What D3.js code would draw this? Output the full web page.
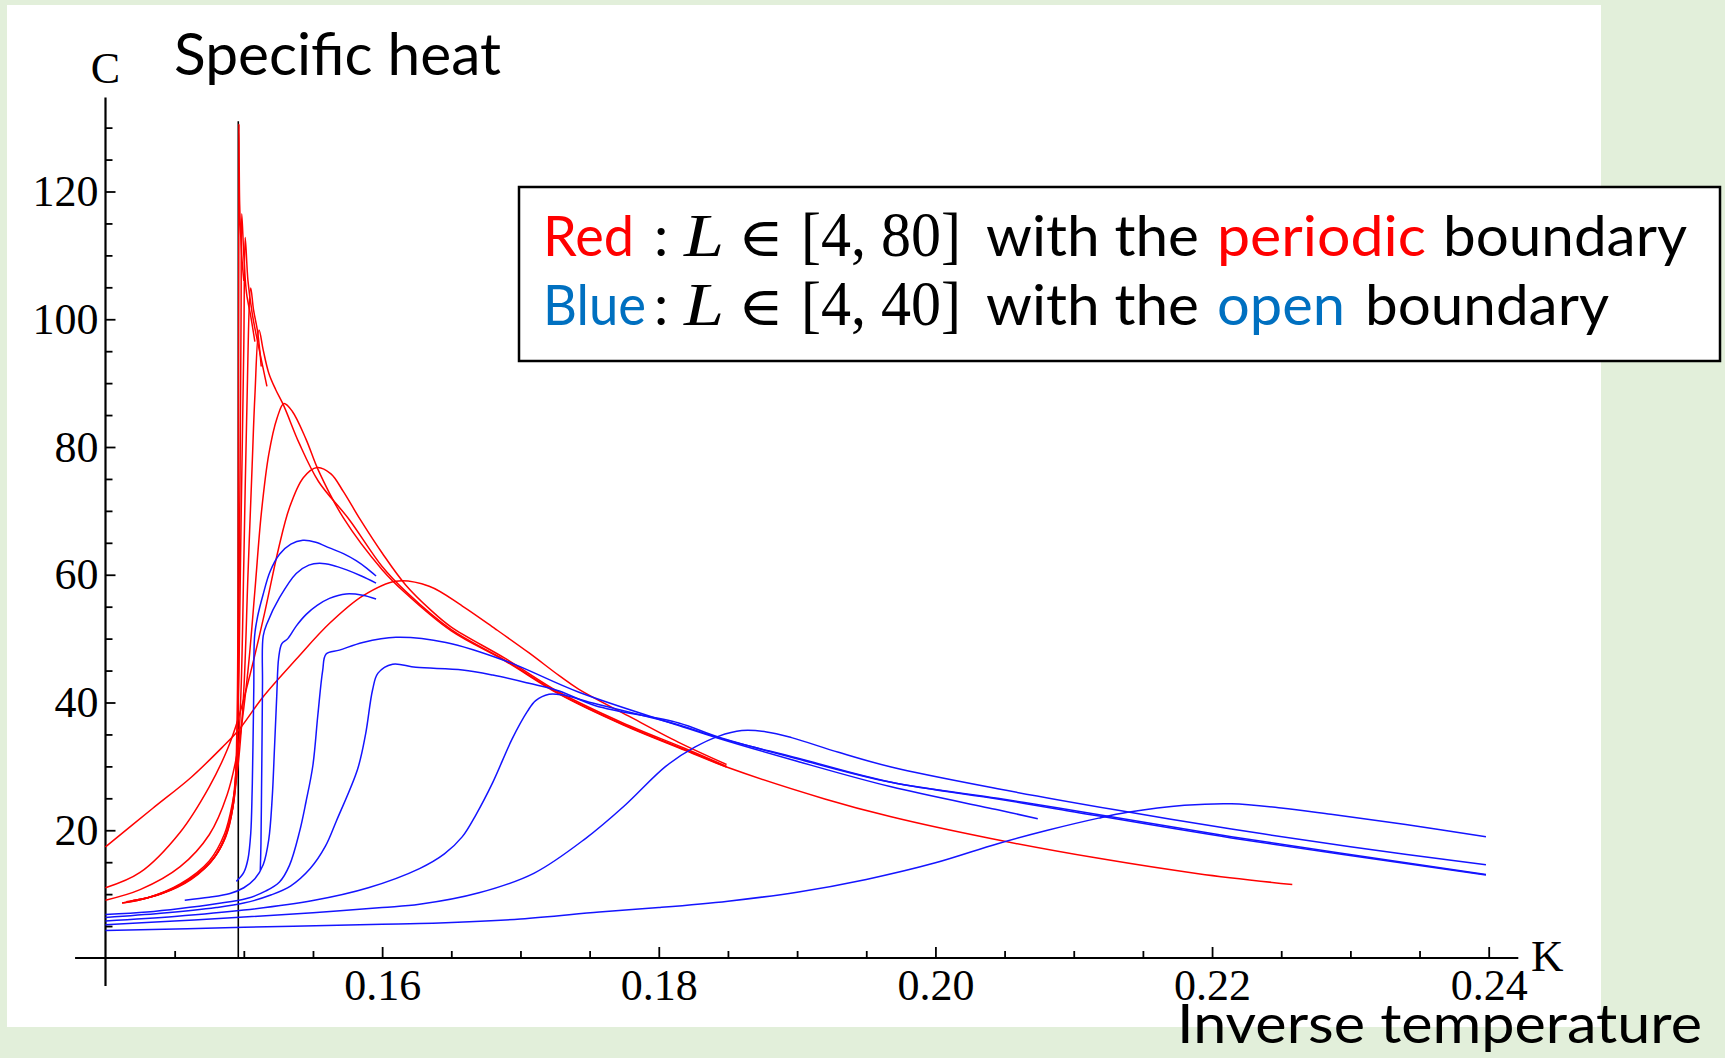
<!DOCTYPE html>
<html>
<head>
<meta charset="utf-8">
<script src="https://cdn.jsdelivr.net/npm/d3@7"></script>
<style>
  body { margin: 0; background: #e2efda; }
  svg { display: block; }
</style>
</head>
<body>
<svg id="chart" width="1725" height="1058"></svg>
<script>
// ---------------------------------------------------------------
// Specific heat C versus inverse temperature K
// Red: periodic boundary, Blue: open boundary, black: critical K
// ---------------------------------------------------------------

// Axis ticks
const xMajorTicks = [0.16, 0.18, 0.20, 0.22, 0.24];
const xMinorTicks = [0.145, 0.15, 0.155, 0.165, 0.17, 0.175, 0.185, 0.19, 0.195,
                     0.205, 0.21, 0.215, 0.225, 0.23, 0.235];
const yMajorTicks = [20, 40, 60, 80, 100, 120];
const yMinorTicks = [5, 10, 15, 25, 30, 35, 45, 50, 55, 65, 70, 75, 85, 90, 95,
                     105, 110, 115, 125, 130];

// Critical coupling marker
const criticalK = 0.1496;
const criticalTop = 131;

// Periodic boundary curves, [K, C]
const periodic1 = [[0.1400,17.4],[0.1434,23.4],[0.1462,28.3],[0.1484,32.9],[0.1496,35.6],[0.1514,40.9],
  [0.1538,46.8],[0.1562,52.4],[0.1586,56.7],[0.1610,59.0],[0.1634,58.2],[0.1658,55.1],[0.1682,51.5],
  [0.1706,47.8],[0.1728,44.2],[0.1742,42.1],[0.1778,37.9],[0.1814,33.8],[0.1849,30.3]];
const periodic2 = [[0.1400,11.0],[0.1425,13.4],[0.1454,19.7],[0.1475,26.8],[0.1488,32.6],[0.1496,37.5],
  [0.1505,44.8],[0.1515,54.0],[0.1525,64.0],[0.1533,70.5],[0.1543,75.2],[0.1553,76.8],[0.1563,75.8],
  [0.1572,73.0],[0.1584,68.7],[0.1600,63.4],[0.1617,58.4],[0.1635,54.5],[0.1650,51.8],[0.1689,46.9],
  [0.1728,41.6],[0.1774,36.8],[0.1819,32.8],[0.1849,30.0]];
const periodic3 = [[0.1400,9.05],[0.1425,10.7],[0.1454,14.3],[0.1475,19.3],[0.1488,25.6],[0.1496,33.0],
  [0.1503,45.0],[0.1508,57.5],[0.15126,69.5],[0.1518,78.8],[0.1524,84.5],[0.1529,86.8],[0.1535,85.6],
  [0.1545,81.2],[0.1554,76.3],[0.1572,68.9],[0.1600,60.8],[0.1617,57.1],[0.1650,51.2],[0.1689,46.5],
  [0.1728,41.3],[0.1774,36.5],[0.1819,32.5],[0.1849,29.9],[0.1920,24.9],[0.1968,22.1],[0.2040,18.7],
  [0.2118,15.6],[0.2190,13.2],[0.2258,11.5]];
const periodic4 = [[0.1412,8.6],[0.1430,9.4],[0.1454,11.6],[0.1475,15.2],[0.1486,19.4],[0.1492,24.5],
  [0.1496,30.5],[0.1500,42.0],[0.1503,60.0],[0.1506,77.0],[0.1508,88.0],[0.1511,98.3],[0.1514,95.2],
  [0.1518,91.6],[0.1523,89.0],[0.1529,86.4],[0.1540,80.6],[0.1554,74.6],[0.1576,68.7],[0.1600,61.3],
  [0.1617,57.4],[0.1650,51.4],[0.1689,46.6],[0.1728,41.4],[0.1774,36.6],[0.1819,32.6],[0.1849,29.9]];
const periodic5 = [[0.1412,8.6],[0.1432,9.5],[0.1456,11.7],[0.1476,15.0],[0.1486,18.8],[0.1492,23.5],
  [0.1495,29.0],[0.1498,42.0],[0.1500,62.0],[0.1502,84.0],[0.1505,104.9],[0.1507,101.5],[0.1510,98.0],
  [0.15126,92.6]];
const periodic6 = [[0.1415,8.8],[0.1435,9.7],[0.1458,11.9],[0.1477,15.3],[0.1486,18.6],[0.1491,22.8],
  [0.1494,28.5],[0.14965,45.0],[0.1498,68.0],[0.1500,96.0],[0.1501,112.8],[0.1503,106.0],[0.1506,101.0],
  [0.1509,97.5],[0.15167,89.5]];
const periodic7 = [[0.1418,8.9],[0.1438,9.9],[0.1460,12.1],[0.1478,15.6],[0.1487,19.0],[0.1492,23.5],
  [0.1495,32.0],[0.14965,55.0],[0.1498,100.0],[0.14985,116.5],[0.1500,110.0],[0.1502,104.0],
  [0.1505,100.5],[0.1508,96.5]];
const periodic8 = [[0.1420,9.0],[0.1440,10.0],[0.1462,12.3],[0.1479,15.8],[0.1488,19.8],[0.1493,25.0],
  [0.1495,36.0],[0.1496,70.0],[0.14965,130.5],[0.1497,118.0],[0.14985,110.0],[0.1500,106.0]];

// Open boundary curves, [K, C]
const open1 = [[0.14946,12.0],[0.1500,13.4],[0.1503,15.5],[0.1505,19.5],[0.1506,26.0],[0.15066,33.0],
  [0.15072,42.0],[0.15078,50.4],[0.1510,53.5],[0.15138,56.8],[0.1519,60.5],[0.15258,63.2],[0.1534,64.8],
  [0.15427,65.4],[0.1552,65.1],[0.15619,64.2],[0.1572,63.3],[0.15812,62.2],[0.1589,61.0],[0.15956,59.8]];
const open2 = [[0.15119,13.75],[0.15124,18.0],[0.15128,26.0],[0.15132,35.0],[0.15135,43.0],[0.1514,50.4],
  [0.1517,52.5],[0.15258,56.4],[0.15379,60.2],[0.1547,61.5],[0.15547,61.8],[0.1564,61.5],[0.15739,60.8],
  [0.1585,59.8],[0.15956,58.7]];
const open3 = [[0.14573,9.05],[0.1475,9.5],[0.1490,10.1],[0.1500,11.0],[0.1508,12.4],[0.1514,14.6],
  [0.1518,18.5],[0.15205,25.0],[0.15222,33.0],[0.15238,41.0],[0.15252,47.0],[0.15275,49.2],[0.15318,50.0],
  [0.1538,52.0],[0.15451,53.8],[0.1553,55.2],[0.15619,56.3],[0.15739,57.0],[0.15859,56.8],[0.15956,56.2]];
const open4 = [[0.1400,6.8],[0.1430,7.2],[0.1454,7.75],[0.1480,8.5],[0.1502,9.3],[0.1516,10.5],
  [0.15258,11.9],[0.1533,14.5],[0.15402,19.7],[0.1545,24.5],[0.15499,30.1],[0.15535,38.0],[0.1557,45.0],
  [0.15595,47.6],[0.15691,48.2],[0.1586,49.4],[0.1610,50.2],[0.16461,49.4],[0.16894,46.5],[0.17423,41.6],
  [0.18144,36.4],[0.1843,34.4],[0.1900,30.8],[0.1968,26.8],[0.2045,23.2],[0.2074,21.8]];
const open5 = [[0.1400,6.35],[0.1440,7.0],[0.1480,7.9],[0.1500,8.6],[0.1520,9.9],[0.1534,11.3],
  [0.1548,14.0],[0.1559,17.5],[0.1567,21.5],[0.15823,29.6],[0.1588,35.0],[0.15931,42.0],[0.1597,44.6],
  [0.16076,46.0],[0.16244,45.5],[0.16581,45.1],[0.1680,44.3],[0.17062,43.0],[0.1728,41.8],[0.17543,39.5],
  [0.18144,36.8],[0.1843,34.6],[0.1900,31.2],[0.1968,27.5],[0.2045,25.0],[0.2089,23.5],[0.2214,19.0],
  [0.2398,13.06]];
const open6 = [[0.1400,5.8],[0.1450,6.5],[0.1500,7.5],[0.1550,9.0],[0.1590,11.0],[0.1627,14.0],
  [0.1645,16.3],[0.1658,19.0],[0.1668,22.5],[0.1680,27.5],[0.1694,34.3],[0.1705,38.6],[0.1711,40.3],
  [0.17207,41.3],[0.1730,41.2],[0.17543,39.8],[0.18144,36.5],[0.1843,34.5],[0.1900,31.3],[0.1968,27.5],
  [0.2045,24.9],[0.2089,23.3],[0.2214,18.8],[0.2398,13.0]];
const open7 = [[0.1400,5.2],[0.1450,5.8],[0.1500,6.4],[0.1550,7.1],[0.1600,7.9],[0.1627,8.4],
  [0.1670,10.2],[0.1710,13.3],[0.1747,18.7],[0.1775,23.8],[0.1805,30.0],[0.1826,33.0],[0.1843,34.7],
  [0.1860,35.6],[0.1878,35.4],[0.1896,34.5],[0.1930,32.2],[0.1968,29.9],[0.2045,26.5],[0.2130,23.2],
  [0.2214,20.2],[0.2300,17.4],[0.2398,14.6]];
const open8 = [[0.1400,4.3],[0.1500,4.8],[0.1600,5.3],[0.1627,5.4],[0.1700,6.1],[0.1757,7.2],
  [0.1800,7.9],[0.1850,8.9],[0.1900,10.3],[0.1950,12.3],[0.2000,14.9],[0.2045,17.9],[0.2081,20.0],
  [0.2118,21.9],[0.2139,22.8],[0.2180,23.9],[0.2214,24.15],[0.2250,23.5],[0.2286,22.5],[0.2340,20.9],
  [0.2398,19.0]];

const periodicCurves = [periodic1, periodic2, periodic3, periodic4, periodic5, periodic6, periodic7, periodic8];
const openCurves = [open1, open2, open3, open4, open5, open6, open7, open8];

// Legend text pieces
const legendRows = [
  { label: "Red", labelColor: "#ff0000", range: "[4, 80]", kind: "periodic", kindColor: "#ff0000" },
  { label: "Blue", labelColor: "#0070c0", range: "[4, 40]", kind: "open", kindColor: "#0070c0" }
];

// ---------------------------------------------------------------
const svg = d3.select("#chart");
const W = 1725, H = 1058;
const sans = "Lato, 'Open Sans', sans-serif";
const serif = "'Liberation Serif', 'Times New Roman', serif";

// page background and white panel
svg.append("rect").attr("width", W).attr("height", H).attr("fill", "#e2efda");
svg.append("rect").attr("x", 7).attr("y", 5).attr("width", 1594).attr("height", 1022).attr("fill", "#ffffff");

const x = d3.scaleLinear().domain([0.14, 0.24]).range([105.5, 1488.7]);
const y = d3.scaleLinear().domain([0, 120]).range([958, 191.5]);

// x axis ticks (pointing up into the plot)
const gx = svg.append("g").attr("transform", `translate(0,${y(0)})`);
gx.call(d3.axisBottom(x).tickValues(xMinorTicks).tickSize(-7).tickFormat(""))
  .call(g => g.select(".domain").remove());
const gxMajor = svg.append("g").attr("transform", `translate(0,${y(0)})`);
gxMajor.call(d3.axisBottom(x).tickValues(xMajorTicks).tickSize(-11).tickPadding(11)
    .tickFormat(d3.format(".2f")))
  .call(g => g.select(".domain").remove());

// y axis ticks (pointing right into the plot)
const gy = svg.append("g").attr("transform", `translate(${x(0.14)},0)`);
gy.call(d3.axisLeft(y).tickValues(yMinorTicks).tickSize(-7).tickFormat(""))
  .call(g => g.select(".domain").remove());
const gyMajor = svg.append("g").attr("transform", `translate(${x(0.14)},0)`);
gyMajor.call(d3.axisLeft(y).tickValues(yMajorTicks).tickSize(-10).tickPadding(7))
  .call(g => g.select(".domain").remove());

svg.selectAll(".tick line").attr("stroke", "#000").attr("stroke-width", 1.8);
svg.selectAll(".tick text").attr("font-family", serif).attr("font-size", 44).attr("fill", "#000");

// axis lines, extending a little past the origin
svg.append("line")
  .attr("x1", x(0.1378)).attr("x2", x(0.24214))
  .attr("y1", y(0)).attr("y2", y(0))
  .attr("stroke", "#000").attr("stroke-width", 2.2);
svg.append("line")
  .attr("x1", x(0.14)).attr("x2", x(0.14))
  .attr("y1", y(-4.4)).attr("y2", y(134.7))
  .attr("stroke", "#000").attr("stroke-width", 2.2);

// axis names
svg.append("text").attr("x", x(0.14)).attr("y", 83).attr("text-anchor", "middle")
  .attr("font-family", serif).attr("font-size", 44).text("C");
svg.append("text").attr("x", 1531).attr("y", 971)
  .attr("font-family", serif).attr("font-size", 45).text("K");

// critical coupling
svg.append("line")
  .attr("x1", x(criticalK)).attr("x2", x(criticalK))
  .attr("y1", y(0)).attr("y2", y(criticalTop))
  .attr("stroke", "#000").attr("stroke-width", 1.6);

// curves: smooth centripetal spline through the sampled points
const line = d3.line().x(d => x(d[0])).y(d => y(d[1])).curve(d3.curveCatmullRom.alpha(0.5));

svg.append("g").selectAll("path").data(periodicCurves).join("path")
  .attr("d", line).attr("fill", "none")
  .attr("stroke", "#ff0000").attr("stroke-width", 1.5).attr("stroke-linejoin", "round");

svg.append("g").selectAll("path").data(openCurves).join("path")
  .attr("d", line).attr("fill", "none")
  .attr("stroke", "#1414ff").attr("stroke-width", 1.5).attr("stroke-linejoin", "round");

// titles
svg.append("text").attr("x", 174).attr("y", 75)
  .attr("font-family", sans).attr("font-size", 58)
  .attr("textLength", 327).attr("lengthAdjust", "spacingAndGlyphs")
  .text("Specific heat");
svg.append("text").attr("x", 1177).attr("y", 1043)
  .attr("font-family", sans).attr("font-size", 55)
  .attr("textLength", 525).attr("lengthAdjust", "spacingAndGlyphs")
  .text("Inverse temperature");

// legend box
const legend = svg.append("g");
legend.append("rect").attr("x", 519).attr("y", 187).attr("width", 1201).attr("height", 174)
  .attr("fill", "#ffffff").attr("stroke", "#000").attr("stroke-width", 2.5);

const rowBase = [256, 325];
legendRows.forEach((r, i) => {
  const by = rowBase[i];
  const add = (txt, xx, opts) => {
    const t = legend.append("text").attr("x", xx).attr("y", by)
      .attr("font-family", opts.font || sans).attr("font-size", opts.size || 57)
      .attr("fill", opts.color || "#000").text(txt);
    if (opts.italic) t.attr("font-style", "italic");
    if (opts.len) t.attr("textLength", opts.len).attr("lengthAdjust", "spacingAndGlyphs");
    return t;
  };
  add(r.label, 543, { color: r.labelColor, len: i === 0 ? 91 : 103 });
  add(":", 654, {});
  add("L", 684, { font: serif, size: 62, italic: true, len: 40 });
  add("\u2208", 738, { font: "'DejaVu Serif', serif", size: 54, len: 46 });
  add(r.range, 801, { font: serif, size: 64, len: 160 });
  add("with the", 986, { len: 213 });
  add(r.kind, 1217, { color: r.kindColor, len: i === 0 ? 209 : 128 });
  add("boundary", i === 0 ? 1443 : 1365, { len: 244 });
});
</script>
</body>
</html>
